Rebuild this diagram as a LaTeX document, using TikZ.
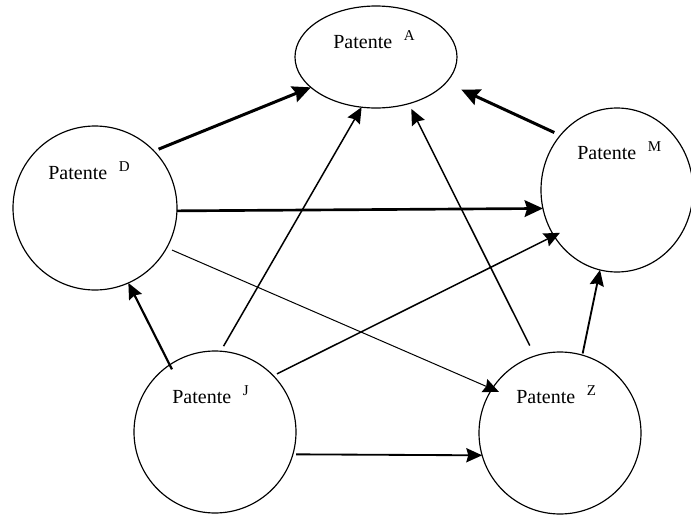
\documentclass[tikz,border=0pt,12pt]{standalone}
\usepackage{fontspec}
\setmainfont{Liberation Serif}
\usetikzlibrary{shapes.geometric, arrows.meta}
\tikzset{
    patent_node/.style={ellipse, draw, line width=0.7pt, inner sep=0pt, outer sep=0pt},
    patent_label/.style={anchor=base west, inner sep=0pt, font=\normalsize},
    arrow/.style={-{Stealth[length=9.5pt, width=8.5pt, inset=1.2pt]}},
    arrow_thin/.style={arrow, line width=0.6pt},
    arrow_mid/.style={arrow, line width=0.9pt},
    arrow_thick/.style={arrow, line width=1.3pt},
    arrow_bold/.style={-{Stealth[length=11pt, width=10pt, inset=1.5pt]}, line width=1.8pt}
}
\newcommand{\patlabel}[1]{Patente\hspace{7pt}\raisebox{4.5pt}{\fontsize{9}{10}\selectfont #1}}

\begin{document}
\begin{tikzpicture}[x=0.6pt, y=-0.6pt]
			\useasboundingbox (0,0) rectangle (691,515);
			% Circles
			\node (A) [patent_node, minimum width=97.2pt, minimum height=61.2pt] at (376,57) {};
			\node (D) [patent_node, minimum width=98.4pt, minimum height=98.4pt] at (95,208) {};
			\node (M) [patent_node, minimum width=91.2pt, minimum height=98.4pt] at (617,190) {};
			\node (J) [patent_node, minimum width=97.2pt, minimum height=97.2pt] at (215,432) {};
			\node (Z) [patent_node, minimum width=97.2pt, minimum height=97.2pt] at (560,433) {};
			
			% Labels
			\node (A_text) [patent_label] at (333,48) {\patlabel{A}};
			\node (D_text) [patent_label] at (48,179) {\patlabel{D}};
			\node (M_text) [patent_label] at (577,159) {\patlabel{M}};
			\node (J_text) [patent_label] at (172,403) {\patlabel{J}};
			\node (Z_text) [patent_label] at (516,403) {\patlabel{Z}};
			
			% Connections
			\draw [arrow_bold, shorten <=3pt] (D.44.5) -- (A.205.4);
			\draw [arrow_bold, shorten <=4pt, shorten >=10pt] (M.136) -- (A.340.2);
			\draw [arrow_bold, line width=1.6pt] (D.358.6) -- (M.194.6);
			\draw [arrow_thin, shorten <=3.5pt, shorten >=-4.5pt] (D.331.4) -- (Z.147.2);
			
			\draw [arrow_thick, shorten <=-3pt] (J.124.7) -- (D.294);
			\draw [arrow_mid, shorten <=3.5pt] (J.86.7) -- (A.254);
			\draw [arrow_mid, shorten <=2.5pt, shorten >=-4pt] (J.44) -- (M.216.4);
			\draw [arrow_thick, line width=1.1pt, shorten <=2pt] (J.344.1) -- (Z.196);
			
			\draw [arrow_mid, shorten <=7pt, shorten >=3.5pt] (Z.108.8) -- (A.305.9);
			\draw [arrow_mid, line width=1.1pt, shorten <=1pt] (Z.74.6) -- (M.258.3);
		\end{tikzpicture}
\end{document}
